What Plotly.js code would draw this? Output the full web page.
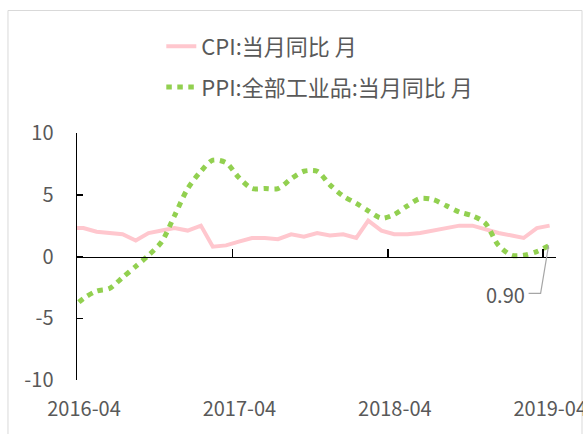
<!DOCTYPE html>
<html>
<head>
<meta charset="utf-8">
<script src="https://cdn.plot.ly/plotly-3.0.1.min.js"></script>
<style>html,body{margin:0;padding:0;background:#fff;}#chart{width:583px;height:434px;}</style>
</head>
<body>
<div id="chart"></div>
<script>
// Month-end observation dates
const dates = [
  "2016-03-31","2016-04-30","2016-05-31","2016-06-30","2016-07-31","2016-08-31","2016-09-30","2016-10-31","2016-11-30","2016-12-31",
  "2017-01-31","2017-02-28","2017-03-31","2017-04-30","2017-05-31","2017-06-30","2017-07-31","2017-08-31","2017-09-30","2017-10-31","2017-11-30","2017-12-31",
  "2018-01-31","2018-02-28","2018-03-31","2018-04-30","2018-05-31","2018-06-30","2018-07-31","2018-08-31","2018-09-30","2018-10-31","2018-11-30","2018-12-31",
  "2019-01-31","2019-02-28","2019-03-31","2019-04-30"
];
const cpi = [2.3,2.3,2.0,1.9,1.8,1.3,1.9,2.1,2.3,2.1,
  2.5,0.8,0.9,1.2,1.5,1.5,1.4,1.8,1.6,1.9,1.7,1.8,
  1.5,2.9,2.1,1.8,1.8,1.9,2.1,2.3,2.5,2.5,2.2,1.9,
  1.7,1.5,2.3,2.5];
const ppi = [-4.3,-3.4,-2.8,-2.6,-1.7,-0.8,0.1,1.2,3.3,5.5,
  6.9,7.8,7.6,6.4,5.5,5.5,5.5,6.3,6.9,6.9,5.8,4.9,
  4.3,3.7,3.1,3.4,4.1,4.7,4.6,4.1,3.6,3.3,2.7,0.9,
  0.1,0.1,0.4,0.9];
const cpiName = "CPI:当月同比 月";
const ppiName = "PPI:全部工业品:当月同比 月";
const yTicks = [-10,-5,0,5,10];
const yTickText = ["-10","-5","0","5","10"];
const xRange = ["2016-04-15","2019-05-15"];
const tickStart = "2016-04-15";

const FONT = "'Noto Sans CJK SC', 'Noto Sans', sans-serif";
const GREY = "#595959";
const lastDate = dates[dates.length-1];
const lastPPI = ppi[ppi.length-1];

const traces = [
  {x: dates, y: cpi, name: cpiName, type: "scatter", mode: "lines",
   line: {color: "#FFC7CE", width: 4}, legendgroup: "a", xaxis: "x", yaxis: "y"},
  {x: dates, y: ppi, name: ppiName, type: "scatter", mode: "lines",
   line: {color: "#92D050", width: 5, dash: "5.5px,5.5px", shape: "spline", smoothing: 0.8},
   legendgroup: "b", xaxis: "x2", yaxis: "y"}
];

const layout = {
  width: 583, height: 434,
  margin: {l: 77, r: 27, t: 133, b: 54, pad: 0},
  paper_bgcolor: "#fff", plot_bgcolor: "rgba(0,0,0,0)",
  font: {family: FONT, color: GREY, size: 20},
  showlegend: true,
  legend: {x: 0.176, y: 1.435, xanchor: "left", yanchor: "top", orientation: "v",
           font: {family: FONT, size: 22, color: GREY}, tracegroupgap: 9,
           bgcolor: "rgba(0,0,0,0)", borderwidth: 0},
  xaxis: {type: "date", range: xRange, tick0: tickStart, dtick: "M12", tickformat: "%Y-%m",
          showline: false, ticks: "", showgrid: false, zeroline: false,
          ticklabelshift: 7, ticklabelstandoff: 15, ticklabeloverflow: "allow",
          tickfont: {family: FONT, size: 20, color: GREY}, automargin: false},
  xaxis2: {type: "date", matches: "x", overlaying: "x", anchor: "free", position: 0.5, side: "bottom",
           tick0: tickStart, dtick: "M12", showline: true, linecolor: "#000", linewidth: 1.5,
           ticks: "inside", ticklen: 8, tickwidth: 1.5, tickcolor: "#000",
           showticklabels: false, showgrid: false, zeroline: false},
  yaxis: {range: [-10, 10], tickmode: "array", tickvals: yTicks, ticktext: yTickText,
          showline: true, linecolor: "#000", linewidth: 1.5,
          ticks: "inside", ticklen: 6, tickwidth: 1.5, tickcolor: "#000",
          showgrid: false, zeroline: false, ticklabelstandoff: 18,
          tickfont: {family: FONT, size: 20, color: GREY}, automargin: false},
  shapes: [
    {type: "rect", xref: "paper", yref: "paper", x0: -0.1441, x1: 1.0543, y0: -0.243, y1: 1.496,
     line: {color: "#d9d9d9", width: 1}, fillcolor: "rgba(0,0,0,0)", layer: "below"},
    {type: "path", xref: "x", yref: "y", xsizemode: "pixel", ysizemode: "pixel",
     xanchor: lastDate, yanchor: lastPPI, path: "M-21,-48 L-9,-48 L-1,0",
     line: {color: "#a6a6a6", width: 1.2}}
  ],
  annotations: [
    {x: lastDate, y: lastPPI, xref: "x", yref: "y", text: lastPPI.toFixed(2), showarrow: false,
     xanchor: "right", yanchor: "middle", xshift: -23, yshift: -49,
     font: {family: FONT, size: 20, color: GREY}}
  ]
};

Plotly.newPlot("chart", traces, layout, {staticPlot: true, displayModeBar: false});
</script>
</body>
</html>
